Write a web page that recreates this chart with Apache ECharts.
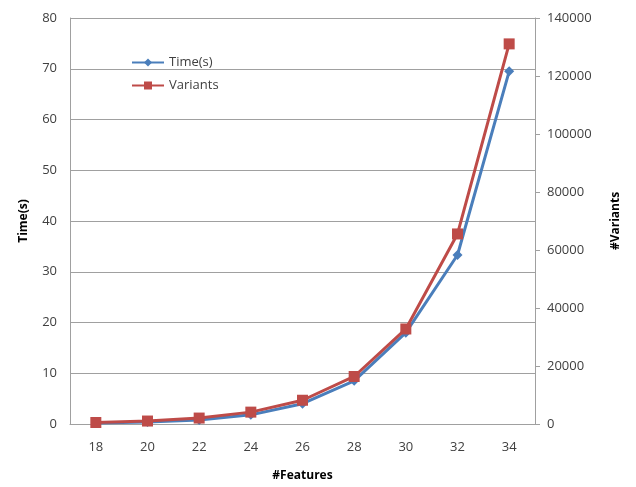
<!DOCTYPE html>
<html><head><meta charset="utf-8">
<script src="https://cdn.jsdelivr.net/npm/echarts@6/dist/echarts.min.js"></script>
<style>html,body{margin:0;padding:0;background:#fff}#c{width:636px;height:487px}</style>
</head><body><div id="c"></div>
<script>
const features = ['18','20','22','24','26','28','30','32','34'];
const timeS = [0.2, 0.4, 0.8, 1.8, 4.0, 8.5, 18.0, 33.3, 69.5];
const variants = [512, 1024, 2048, 4096, 8192, 16384, 32768, 65536, 131072];
const font = '"Open Sans", "Liberation Sans", sans-serif';
const chart = echarts.init(document.getElementById('c'));
chart.setOption({
  animation: false,
  textStyle: {fontFamily: font},
  grid: {left: 70, right: 101, top: 18, bottom: 62, containLabel: false},
  legend: {
    orient: 'vertical', left: 126, top: 51, itemGap: 10, itemWidth: 32, itemHeight: 10,
    textStyle: {fontFamily: font, fontSize: 13, color: '#404040'},
    data: ['Time(s)', 'Variants']
  },
  xAxis: {
    type: 'category', data: features, boundaryGap: true,
    name: '#Features', nameLocation: 'middle', nameGap: 46,
    nameTextStyle: {fontFamily: font, fontSize: 12, fontWeight: 'bold', color: '#000'},
    axisLine: {lineStyle: {color: '#a0a0a0'}},
    axisTick: {show: false},
    axisLabel: {fontFamily: font, fontSize: 13, color: '#404040', margin: 17}
  },
  yAxis: [{
    type: 'value', min: 0, max: 80, interval: 10,
    name: 'Time(s)', nameLocation: 'middle', nameGap: 40,
    nameTextStyle: {fontFamily: font, fontSize: 12, fontWeight: 'bold', color: '#000'},
    axisLine: {show: true, lineStyle: {color: '#a0a0a0'}},
    axisTick: {show: false},
    axisLabel: {fontFamily: font, fontSize: 13, color: '#404040', margin: 13},
    splitLine: {lineStyle: {color: '#a0a0a0'}}
  }, {
    type: 'value', min: 0, max: 140000, interval: 20000, position: 'right',
    name: '#Variants', nameLocation: 'middle', nameGap: 75,
    nameTextStyle: {fontFamily: font, fontSize: 12, fontWeight: 'bold', color: '#000'},
    axisLine: {show: true, lineStyle: {color: '#a0a0a0'}},
    axisTick: {show: true, length: 5, lineStyle: {color: '#a0a0a0'}},
    axisLabel: {fontFamily: font, fontSize: 13, color: '#404040', margin: 12, formatter: v => String(v)},
    splitLine: {show: false}
  }],
  series: [{
    name: 'Time(s)', type: 'line', yAxisIndex: 0, data: timeS,
    symbol: 'diamond', symbolSize: 10,
    lineStyle: {color: '#4a7ebb', width: 3},
    itemStyle: {color: '#4a7ebb'}
  }, {
    name: 'Variants', type: 'line', yAxisIndex: 1, data: variants,
    symbol: 'rect', symbolSize: 11,
    lineStyle: {color: '#be4b48', width: 3},
    itemStyle: {color: '#be4b48'}
  }]
});
</script></body></html>
